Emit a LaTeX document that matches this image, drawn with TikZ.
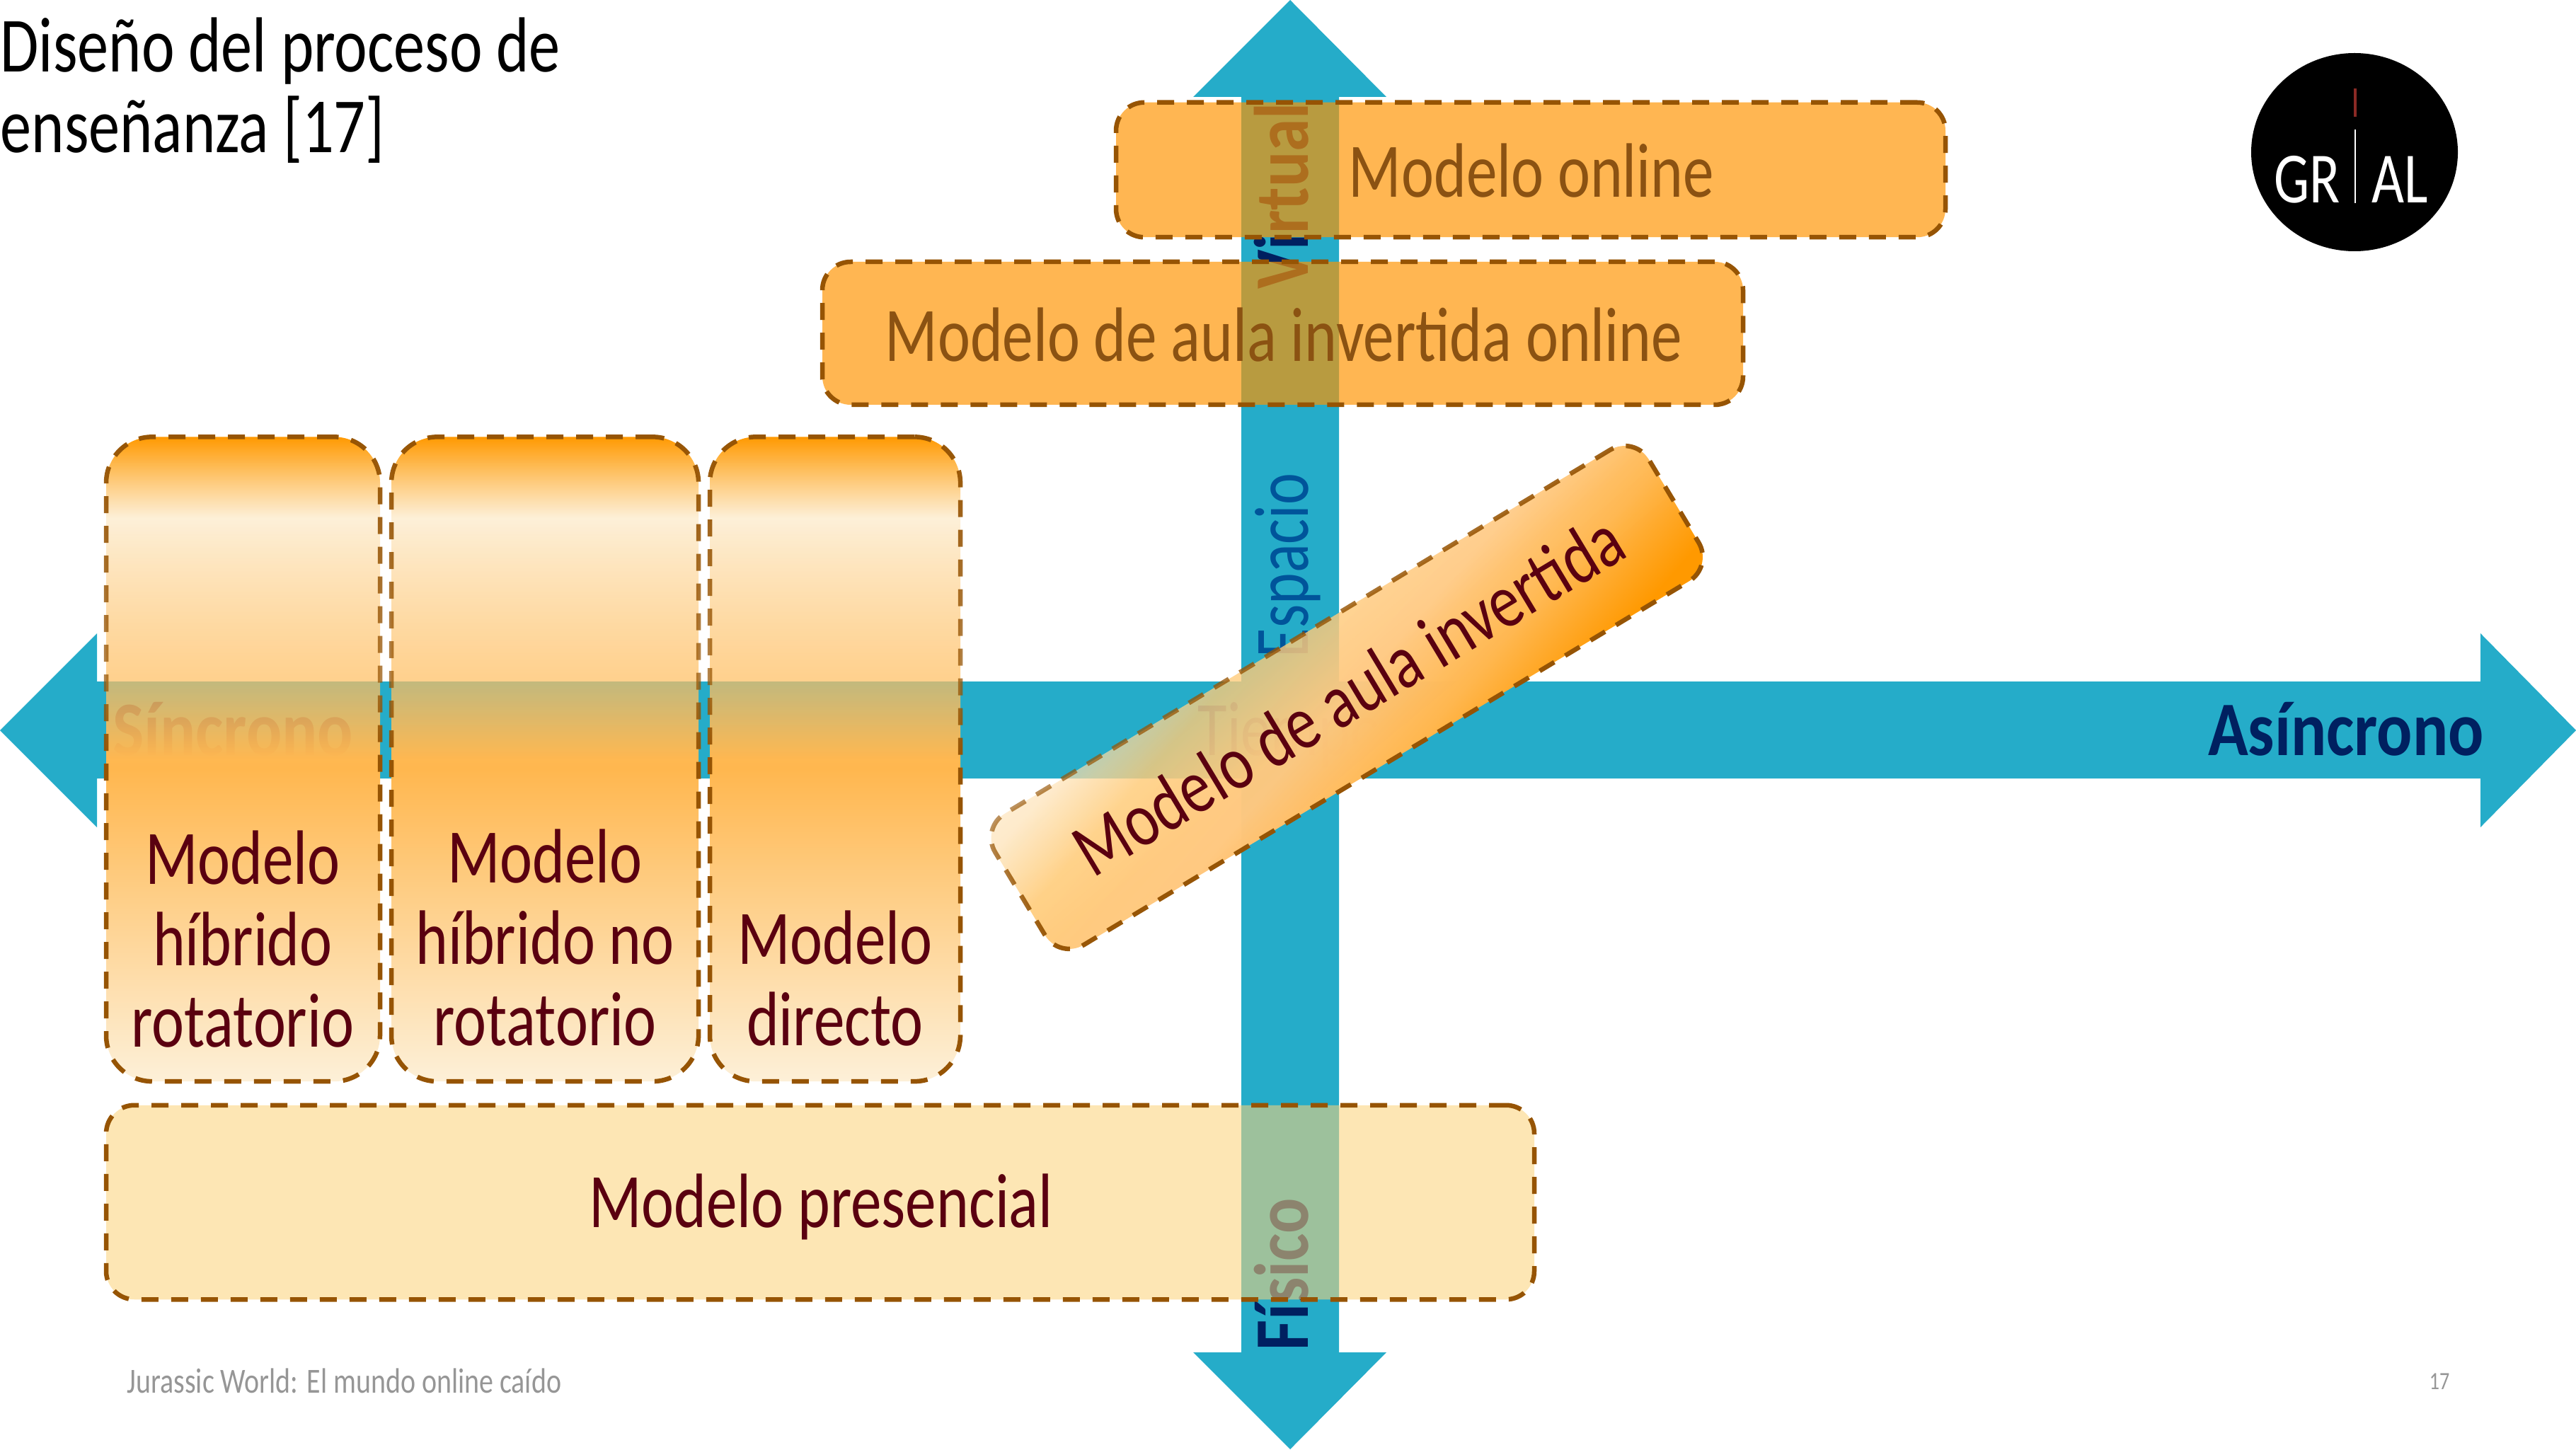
\documentclass[tikz,border=0pt]{standalone}
\usepackage{fontspec}
\usetikzlibrary{fadings, shapes.geometric}
\setmainfont{Carlito}
\newfontfamily\labelfont[FakeStretch=0.8]{Carlito}
\newfontfamily\midfont[FakeStretch=0.78]{Carlito}
\newfontfamily\axisfont[FakeStretch=0.86]{Carlito Bold}
\definecolor{axisblue}{RGB}{37, 172, 201}
\definecolor{axisnavy}{RGB}{0, 32, 96}
\definecolor{axismid}{RGB}{0, 84, 154}
\definecolor{dashbrown}{RGB}{150, 84, 4}
\definecolor{labelred}{RGB}{90, 0, 16}
\definecolor{labelbrown}{RGB}{139, 82, 18}
\definecolor{footgrey}{RGB}{150, 150, 150}
\definecolor{onlinefill}{RGB}{255, 147, 0}
\definecolor{presencefill}{RGB}{251, 211, 121}
\definecolor{logored}{RGB}{139, 42, 37}
% column gradient, top to bottom
\definecolor{gradA}{RGB}{255, 153, 0}
\definecolor{gradB}{RGB}{253, 238, 212}
\definecolor{gradC}{RGB}{255, 190, 96}
\definecolor{gradD}{RGB}{255, 183, 79}
\definecolor{gradE}{RGB}{253, 240, 216}
\pgfdeclareverticalshading{columngrad}{100bp}{color(0bp)=(gradE); color(25bp)=(gradE); color(49.25bp)=(gradD); color(56bp)=(gradC); color(68.7bp)=(gradB); color(75bp)=(gradA); color(100bp)=(gradA)}
\pgfdeclareverticalshading{columnmask}{100bp}{rgb(0bp)=(1,1,1); rgb(50bp)=(1,1,1); rgb(56bp)=(.72,.72,.72); rgb(75bp)=(1,1,1); rgb(100bp)=(1,1,1)}
\pgfdeclarefading{columnfade}{\pgfuseshading{columnmask}}
% slanted box gradient, bottom right to top left
\definecolor{slantA}{RGB}{255, 153, 0}
\definecolor{slantB}{RGB}{255, 183, 79}
\definecolor{slantC}{RGB}{255, 200, 128}
\definecolor{slantD}{RGB}{255, 203, 120}
\definecolor{slantE}{RGB}{253, 226, 182}
\pgfdeclareverticalshading{slantgrad}{100bp}{color(0bp)=(slantA); color(37bp)=(slantA); color(43.5bp)=(slantB); color(50bp)=(slantC); color(58bp)=(slantD); color(63bp)=(slantE); color(100bp)=(slantE)}
\pgfdeclareverticalshading{slantmask}{100bp}{rgb(0bp)=(1,1,1); rgb(45bp)=(1,1,1); rgb(50bp)=(.97,.97,.97); rgb(58bp)=(.75,.75,.75); rgb(63bp)=(.5,.5,.5); rgb(100bp)=(.5,.5,.5)}
\pgfdeclarefading{slantfade}{\pgfuseshading{slantmask}}
\tikzset{
  modelbox/.style={draw=dashbrown, line width=0.065cm, dash pattern=on 0.24cm off 0.18cm, rectangle, inner sep=0pt},
  flatbox/.style={modelbox, rounded corners=0.4cm, fill=onlinefill, fill opacity=0.68},
  columnbox/.style={modelbox, rounded corners=0.65cm, shading=columngrad, path fading=columnfade, minimum height=9.11cm},
  boxlabel/.style={font=\labelfont\fontsize{31}{32.7}\selectfont, text=labelred, align=center, anchor=base},
  axislabel/.style={font=\axisfont\fontsize{31}{33}\selectfont, text=axisnavy, anchor=base},
  midlabel/.style={axislabel, text=axismid, font=\midfont\fontsize{31}{33}\selectfont}
}
\begin{document}
\begin{tikzpicture}
  \useasboundingbox (0, 0) rectangle (36.4, 20.48);
  % Axes
  \fill[axisblue] (0, 10.16) -- (1.37, 11.53) -- (1.37, 10.85) -- (35.05, 10.85) -- (35.05, 11.53)
    -- (36.4, 10.16) -- (35.05, 8.79) -- (35.05, 9.48) -- (1.37, 9.48) -- (1.37, 8.79) -- cycle;
  \fill[axisblue] (18.23, 20.48) -- (19.59, 19.11) -- (18.92, 19.11) -- (18.92, 1.37) -- (19.59, 1.37)
    -- (18.23, 0) -- (16.86, 1.37) -- (17.54, 1.37) -- (17.54, 19.11) -- (16.86, 19.11) -- cycle;
  \node[axislabel] (sincrono) at (3.29, 9.81) {Síncrono};
  \node[axislabel] (asincrono) at (33.15, 9.81) {Asíncrono};
  \node[midlabel] (tiempo) at (18.23, 9.81) {Tiempo};
  \node[axislabel, rotate=90] (virtual) at (18.48, 17.71) {Virtual};
  \node[midlabel, rotate=90] (espacio) at (18.48, 12.49) {Espacio};
  \node[axislabel, rotate=90] (fisico) at (18.48, 2.47) {Físico};

  % Boxes
  \node[flatbox, minimum width=11.72cm, minimum height=1.905cm] (online) at (21.63, 18.08) {};
  \node[flatbox, minimum width=13.01cm, minimum height=2.02cm] (aulaonline) at (18.125, 15.77) {};
  \node[columnbox, minimum width=3.87cm] (rotatorio) at (3.435, 9.755) {};
  \node[columnbox, minimum width=4.34cm] (norotatorio) at (7.70, 9.755) {};
  \node[columnbox, minimum width=3.54cm] (directo) at (11.80, 9.755) {};
  \node[flatbox, fill=presencefill, fill opacity=0.56, minimum width=20.18cm, minimum height=2.745cm] (presencial) at (11.59, 3.49) {};
  \node[modelbox, rounded corners=0.4cm, shading=slantgrad, shading angle=49, path fading=slantfade, fading angle=49, rotate=31, minimum width=10.8cm, minimum height=2.17cm] (invertida) at (19.03, 10.65) {};

  % Labels
  \node[boxlabel, text=labelbrown] (onlinetext) at (21.64, 17.69) {Modelo online};
  \node[boxlabel, text=labelbrown] (aulaonlinetext) at (18.14, 15.37) {Modelo de aula invertida online};
  \node[boxlabel] (rotatoriotext) at (3.43, 5.69) {Modelo\\híbrido\\rotatorio};
  \node[boxlabel] (norotatoriotext) at (7.70, 5.71) {Modelo\\híbrido no\\rotatorio};
  \node[boxlabel] (directotext) at (11.80, 5.71) {Modelo\\directo};
  \node[boxlabel] (presencialtext) at (11.60, 3.14) {Modelo presencial};
  \node[boxlabel, rotate=31] (invertidatext) at (19.24, 10.35) {Modelo de aula invertida};

  % Title and footer
  \node[font=\labelfont\fontsize{31.4}{32.7}\selectfont, align=left, anchor=base west, inner sep=0pt] (titulo) at (0, 18.32) {Diseño del proceso de\\enseñanza [17]};
  \node[font=\labelfont\fontsize{14.2}{16}\selectfont, text=footgrey, anchor=base west, inner sep=0pt] (pie) at (1.79, 0.8) {Jurassic World: El mundo online caído};
  \node[font=\labelfont\fontsize{10}{12}\selectfont, text=footgrey, anchor=base, inner sep=0pt] (pagina) at (34.47, 0.85) {17};

  % Logo
  \node[ellipse, fill=black, minimum width=2.92cm, minimum height=2.8cm, inner sep=0pt] (logo) at (33.27, 18.33) {};
  \coordinate (logotick) at (33.28, 19.23);
  \coordinate (logotickend) at (33.28, 18.83);
  \coordinate (logostem) at (33.28, 18.65);
  \coordinate (logostemend) at (33.28, 17.61);
  \draw[line width=0.04cm, logored] (logotick) -- (logotickend);
  \draw[line width=0.025cm, white] (logostem) -- (logostemend);
  \node[font=\midfont\fontsize{29}{30}\selectfont, text=white, anchor=base east, inner sep=0pt] (logoleft) at (33.07, 17.61) {GR};
  \node[font=\midfont\fontsize{29}{30}\selectfont, text=white, anchor=base west, inner sep=0pt] (logoright) at (33.51, 17.61) {AL};
\end{tikzpicture}
\end{document}
